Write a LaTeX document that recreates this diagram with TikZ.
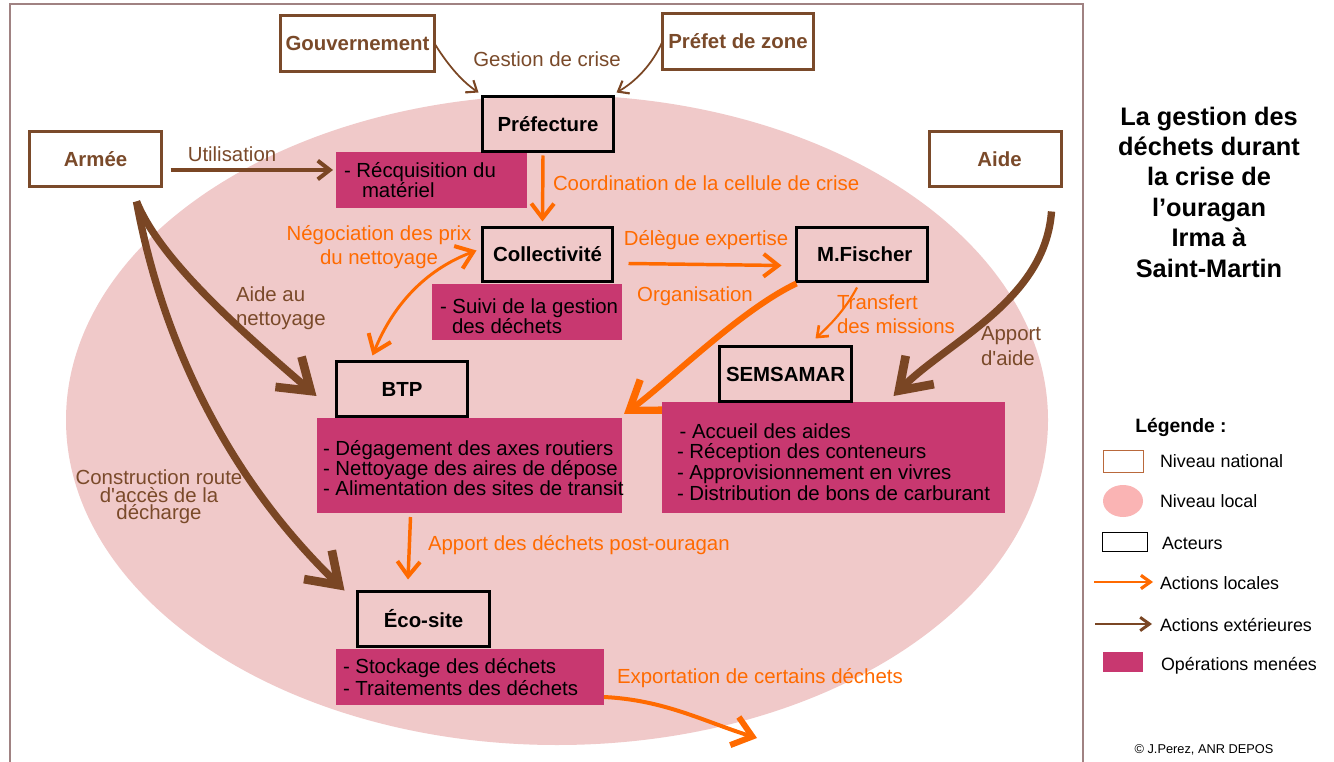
\documentclass[tikz,border=0pt]{standalone}
\usepackage{fontspec}
\setmainfont{Liberation Sans}
\usetikzlibrary{arrows.meta,shapes.geometric,calc}
\definecolor{ellc}{RGB}{240,201,201}
\definecolor{magc}{RGB}{200,56,112}
\definecolor{orc}{RGB}{255,106,0}
\definecolor{brc}{RGB}{122,70,36}
\definecolor{brb}{RGB}{122,74,42}
\definecolor{framec}{RGB}{160,130,130}
\definecolor{legpink}{RGB}{250,180,180}
\definecolor{natc}{RGB}{185,105,60}
\newcommand\fsz{\fontsize{15.3}{18.4}\selectfont}
\newcommand\opsz{\fontsize{15.3}{15}\selectfont}
\newcommand\legsz{\fontsize{13.4}{16}\selectfont}
\begin{document}
\begin{tikzpicture}[x=0.75pt,y=-0.75pt,
  every node/.style={inner sep=0pt,outer sep=0pt},
  natbox/.style={draw=brb,line width=2.25pt,fill=white,text=brb,font=\bfseries\fsz},
  actbox/.style={draw=black,line width=2.25pt,text=black,font=\bfseries\fsz},
  opsbox/.style={fill=magc},
  opstext/.style={anchor=west,align=left,text=black,font=\opsz},
  olab/.style={text=orc,font=\fsz},
  blab/.style={text=brb,font=\fsz},
  legtext/.style={anchor=west,text=black,font=\legsz},
  brthin/.style={draw=brc,line width=1.3pt,-{Straight Barb[length=7pt,width=11pt,line width=1.6pt]}},
  brmid/.style={draw=brc,line width=2.8pt,-{Straight Barb[length=9pt,width=14pt,line width=3pt]}},
  brbig/.style={draw=brc,line width=5.5pt,-{Straight Barb[length=22pt,width=30pt,line width=6.5pt]}},
  orbig/.style={draw=orc,line width=4.5pt,-{Straight Barb[length=20pt,width=28pt,line width=5.5pt]}},
  ormid/.style={draw=orc,line width=2.6pt,-{Straight Barb[length=11pt,width=17pt,line width=3pt]}},
  orthin/.style={draw=orc,line width=1.6pt,-{Straight Barb[length=7pt,width=11pt,line width=2pt]}},
  ordouble/.style={draw=orc,line width=2.2pt,{Straight Barb[length=12pt,width=18pt,line width=3pt]}-{Straight Barb[length=12pt,width=18pt,line width=3pt]}},
  orexp/.style={draw=orc,line width=3pt,-{Straight Barb[length=14pt,width=22pt,line width=4.5pt]}},
]
\useasboundingbox (0,0) rectangle (1334,762);
\fill[white] (0,0) rectangle (1334,762);
% frame
\draw[framec,line width=1.5pt] (10,762) -- (10,4) -- (1083,4) -- (1083,762);
% local level ellipse
\fill[ellc] (557,420) ellipse [x radius=491, y radius=325];

% operation boxes
\node[opsbox,minimum width=143.25pt,minimum height=42pt] (req) at (431.5,180) {};
\node[opstext] (reqt) at (344,180) {- Récquisition du\\\hspace*{13.5pt}matériel};
\node[opsbox,minimum width=142.5pt,minimum height=42pt] (suivi) at (527,312) {};
\node[opstext] (suivit) at (440,316.5) {- Suivi de la gestion\\\hspace*{9pt}des déchets};
\node[opsbox,minimum width=228.75pt,minimum height=71.25pt] (bops) at (469.5,465.5) {};
\node[opstext] (bopst) at (323,468.5) {- Dégagement des axes routiers\\- Nettoyage des aires de dépose\\- Alimentation des sites de transit};
\node[opsbox,minimum width=257.25pt,minimum height=83.25pt] (sops) at (833.5,457.5) {};
\node[opstext,font=\fontsize{15.3}{15.5}\selectfont] (sopst) at (677,462) {\hspace*{2pt}- Accueil des aides\\- Réception des conteneurs\\- Approvisionnement en vivres\\- Distribution de bons de carburant};
\node[opsbox,minimum width=201pt,minimum height=42pt] (eops) at (470,677) {};
\node[opstext,font=\fontsize{15.3}{16.5}\selectfont] (eopst) at (343,677) {- Stockage des déchets\\- Traitements des déchets};

% national actors
\node[natbox,minimum width=115.5pt,minimum height=42pt] (gouv) at (357.5,43.5) {Gouvernement};
\node[natbox,minimum width=113.25pt,minimum height=42pt] (prefet) at (738,41.5) {Préfet de zone};
\node[natbox,minimum width=99pt,minimum height=41.25pt] (armee) at (95.5,159) {Armée};
\node[natbox,minimum width=99pt,minimum height=41.25pt] (aide) at (995.5,159) {\hspace*{6pt}Aide};

% local actors
\node[actbox,minimum width=98.25pt,minimum height=41.25pt] (pref) at (548,124) {Préfecture};
\node[actbox,minimum width=97.5pt,minimum height=40.5pt] (coll) at (547.5,254.5) {Collectivité};
\node[actbox,minimum width=98.25pt,minimum height=40.5pt] (fisch) at (862,254.5) {\hspace*{4pt}M.Fischer};
\node[actbox,minimum width=99pt,minimum height=41.25pt] (sems) at (785.5,374) {SEMSAMAR};
\node[actbox,minimum width=98.25pt,minimum height=41.25pt] (btp) at (402,389) {BTP};
\node[actbox,minimum width=99pt,minimum height=41.25pt] (eco) at (423.5,619) {Éco-site};

% external actions
\draw[brthin] (gouv.east) .. controls (446,62) and (460,80) .. ([shift={(-4,-4)}]pref.north west);
\draw[brthin] (prefet.west) .. controls (652,65) and (635,82) .. ([shift={(3,-4)}]pref.north east);
\node[blab] (lgestion) at (547,59) {Gestion de crise};

\draw[brmid] ([shift={(9,11)}]armee.east) -- ([shift={(-3,-10)}]req.west);
\node[blab] (lutil) at (232,154) {Utilisation};

\draw[brbig] ([shift={(-25,15)}]armee.south east) .. controls (160,260) and (240,330) .. ([shift={(-20,7)}]btp.west);
\node[blab,anchor=west,align=left] (laide) at (236,308) {Aide au\\nettoyage};

\draw[brbig] ([shift={(-25,15)}]armee.south east) .. controls (160,330) and (220,470) .. ([shift={(-13,-1)}]eco.north west);
\node[blab,align=center,font=\fontsize{15.3}{13}\selectfont] (lconstr) at (159,497) {Construction route\\d\textquotesingle accès de la\\décharge};

\draw[brbig] ([shift={(-10,25)}]aide.south east) .. controls (1045,300) and (950,340) .. ([shift={(60,-6)}]sops.north);
\node[blab,anchor=west,align=left] (lapport) at (981,346) {Apport\\d\textquotesingle aide};

% local actions
\draw[ormid] ([shift={(-5,4)}]pref.south) -- ([shift={(-5,-6)}]coll.north);
\node[olab,anchor=west] (lcoord) at (553,183) {Coordination de la cellule de crise};

\draw[ordouble] ([shift={(-6,-4)}]coll.west) .. controls (430,268) and (395,300) .. ([shift={(36,-6)}]btp.north west);
\node[olab,align=center] (lnego) at (379,247) {Négociation des prix\\du nettoyage};

\draw[ormid] ([shift={(16,9)}]coll.east) -- ([shift={(-15,11)}]fisch.west);
\node[olab] (ldeleg) at (706,240) {Délègue expertise};

\draw[orbig] ([shift={(0,2)}]fisch.south west) .. controls (740,310) and (665,385) .. ([shift={(2,-4)}]bops.north east);
\node[olab] (lorga) at (695,296) {Organisation};

\draw[orthin] ([shift={(-5,6)}]fisch.south) .. controls (845,310) and (830,325) .. ([shift={(30,-8)}]sems.north);
\node[olab,anchor=west,align=left] (ltransf) at (837,314) {Transfert\\des missions};

\draw[ormid] ([shift={(-59,4)}]bops.south) -- ([shift={(-15.5,-12)}]eco.north);
\node[olab,anchor=west] (lapdech) at (428,545) {Apport des déchets post-ouragan};

\coordinate (exportend) at (757,738);
\draw[orexp] ([shift={(0,20)}]eops.east) .. controls (665,700) and (705,722) .. (exportend);
\node[olab,anchor=west] (lexport) at (617,678) {Exportation de certains déchets};

% title
\node[align=center,font=\bfseries\fontsize{19}{22.8}\selectfont] (title) at (1209,192) {La gestion des\\déchets durant\\la crise de\\l’ouragan\\Irma à\\Saint-Martin};

% legend
\node[font=\bfseries\fontsize{14.5}{17}\selectfont] (leghead) at (1181,427) {Légende :};
\node[draw=natc,line width=0.75pt,minimum width=30pt,minimum height=16.5pt] (lgnat) at (1123,461) {};
\node[legtext] (lgnatt) at (1160,461) {Niveau national};
\node[ellipse,fill=legpink,minimum width=30pt,minimum height=24pt] (lgloc) at (1123,501) {};
\node[legtext] (lglocal) at (1160,501) {Niveau local};
\node[draw=black,line width=0.75pt,minimum width=33.75pt,minimum height=14.25pt] (lgact) at (1124.5,541.5) {};
\node[legtext] (lgactt) at (1162,543) {Acteurs};
\coordinate (lgo1) at (1094,582);
\coordinate (lgo2) at (1153,582);
\draw[draw=orc,line width=2.2pt,-{Straight Barb[length=7pt,width=10pt,line width=2.4pt]}] (lgo1) -- (lgo2);
\node[legtext] (lgort) at (1160,583) {Actions locales};
\coordinate (lgb1) at (1095,624);
\coordinate (lgb2) at (1152,624);
\draw[draw=brc,line width=1.8pt,-{Straight Barb[length=7pt,width=10pt,line width=2.2pt]}] (lgb1) -- (lgb2);
\node[legtext] (lgbrt) at (1160,625) {Actions extérieures};
\node[fill=magc,minimum width=30pt,minimum height=15pt] (lgmag) at (1123,662) {};
\node[legtext] (lgmagt) at (1161,666) {Opérations menées};

\node[font=\fontsize{9.6}{11}\selectfont] (copy) at (1204,750) {© J.Perez, ANR DEPOS};
\end{tikzpicture}
\end{document}
